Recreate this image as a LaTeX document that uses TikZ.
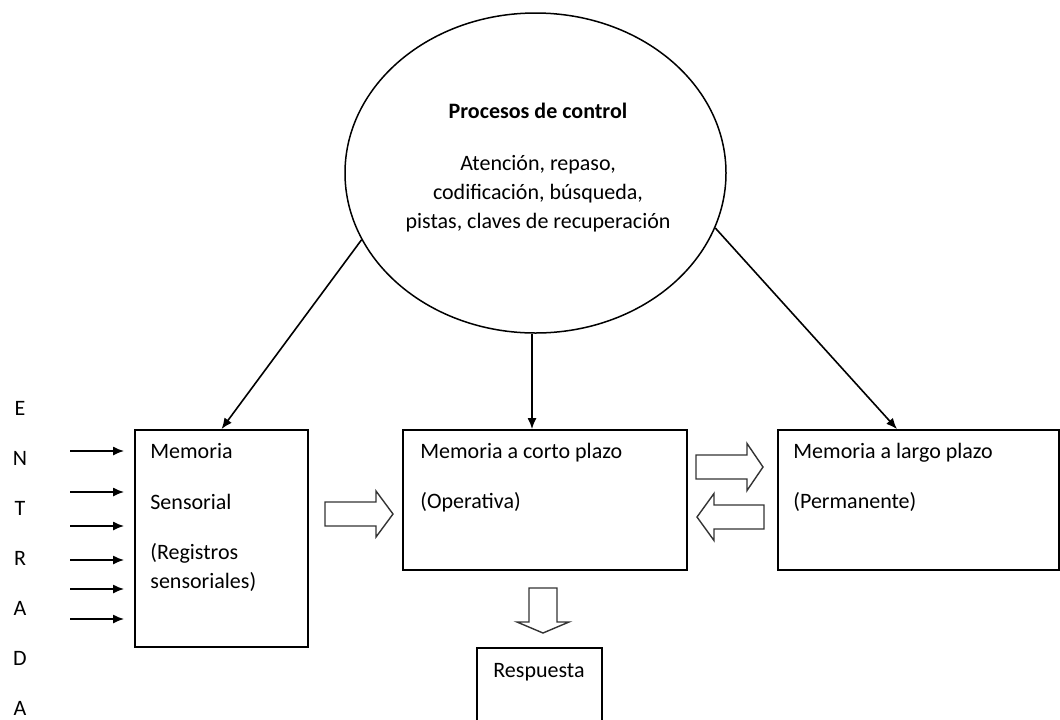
\documentclass[tikz,border=0pt]{standalone}
\usepackage{fontspec}
\setmainfont{Carlito}
\usetikzlibrary{shapes.geometric, arrows.meta}
\tikzset{block/.style = {draw, line width=0.9pt, rectangle, inner sep=0pt},
         oval/.style = {draw, line width=0.75pt, ellipse, inner sep=0pt, minimum width=190.5pt, minimum height=160pt},
         txt/.style = {anchor=base west, inner sep=0pt},
         conn/.style = {line width=0.8pt, -{Latex[length=5.5pt, width=4.5pt]}},
         hollow/.style = {draw=black!80, line width=0.7pt, fill=white},
         pics/blockarrow/.style args={#1/#2/#3/#4}{code={
           \draw[hollow](0,-#3)--(#1-#2,-#3)--(#1-#2,-#4)--(#1,0)--(#1-#2,#4)--(#1-#2,#3)--(0,#3)--cycle;}}}

\begin{document}
\begin{tikzpicture}[x=0.5pt, y=-0.5pt, font=\fontsize{11}{13.5}\selectfont]
    \path[use as bounding box, clip](0,0)rectangle(1060,719);

    % control processes
    \node[oval](ctrl)at(535.5,173){};
    \node[anchor=base, inner sep=0pt](ctrlt)at(538,118){\textbf{Procesos de control}};
    \node[anchor=base, inner sep=0pt](ctrla)at(538,170){Atención, repaso,};
    \node[anchor=base, inner sep=0pt](ctrlb)at(538,199){codificación, búsqueda,};
    \node[anchor=base, inner sep=0pt](ctrlc)at(538,228){pistas, claves de recuperación};

    % memory stores
    \node[block, minimum width=86.5pt, minimum height=108.5pt](sens)at(221.5,538.5){};
    \node[txt](sens1)at(150,458){Memoria};
    \node[txt](sens2)at(150,509){Sensorial};
    \node[txt](sens3)at(150,559){(Registros};
    \node[txt](sens4)at(150,588){sensoriales)};

    \node[block, minimum width=142pt, minimum height=70pt](stm)at(545,500){};
    \node[txt](stm1)at(420,458){Memoria a corto plazo};
    \node[txt](stm2)at(420,508){(Operativa)};

    \node[block, minimum width=140.5pt, minimum height=70pt](ltm)at(918.5,500){};
    \node[txt](ltm1)at(793,458){Memoria a largo plazo};
    \node[txt](ltm2)at(793,508){(Permanente)};

    \node[block, minimum width=62.5pt, minimum height=60pt](resp)at(539.5,708){};
    \node[txt](resp1)at(493,677){Respuesta};

    % input
    \foreach \l [count=\i from 0] in {E,N,T,R,A,D,A}
        \node[anchor=base, inner sep=0pt](in\i)at(20,415+50*\i){\l};
    \foreach \y in {451,492,526,560,589,619}
        \draw[conn, shorten >=5pt](70,\y)--(sens.west |- 0,\y);

    % control arrows
    \draw[conn](ctrl.201.6)--(sens.north);
    \draw[conn]([xshift=-1.75pt]ctrl.south)--([xshift=-1.75pt]ctrl.south |- stm.north);
    \draw[conn](ctrl.343)--([xshift=-10.75pt]ltm.north);

    % transfer arrows
    \pic at(325,514){blockarrow=68/17/12/23};
    \pic at(696,467){blockarrow=67/16/12/23.5};
    \pic[rotate=180] at(764,517){blockarrow=67/17/12/23.5};
    \pic[rotate=-90] at(543,588){blockarrow=45/11/14/26};
\end{tikzpicture}
\end{document}
